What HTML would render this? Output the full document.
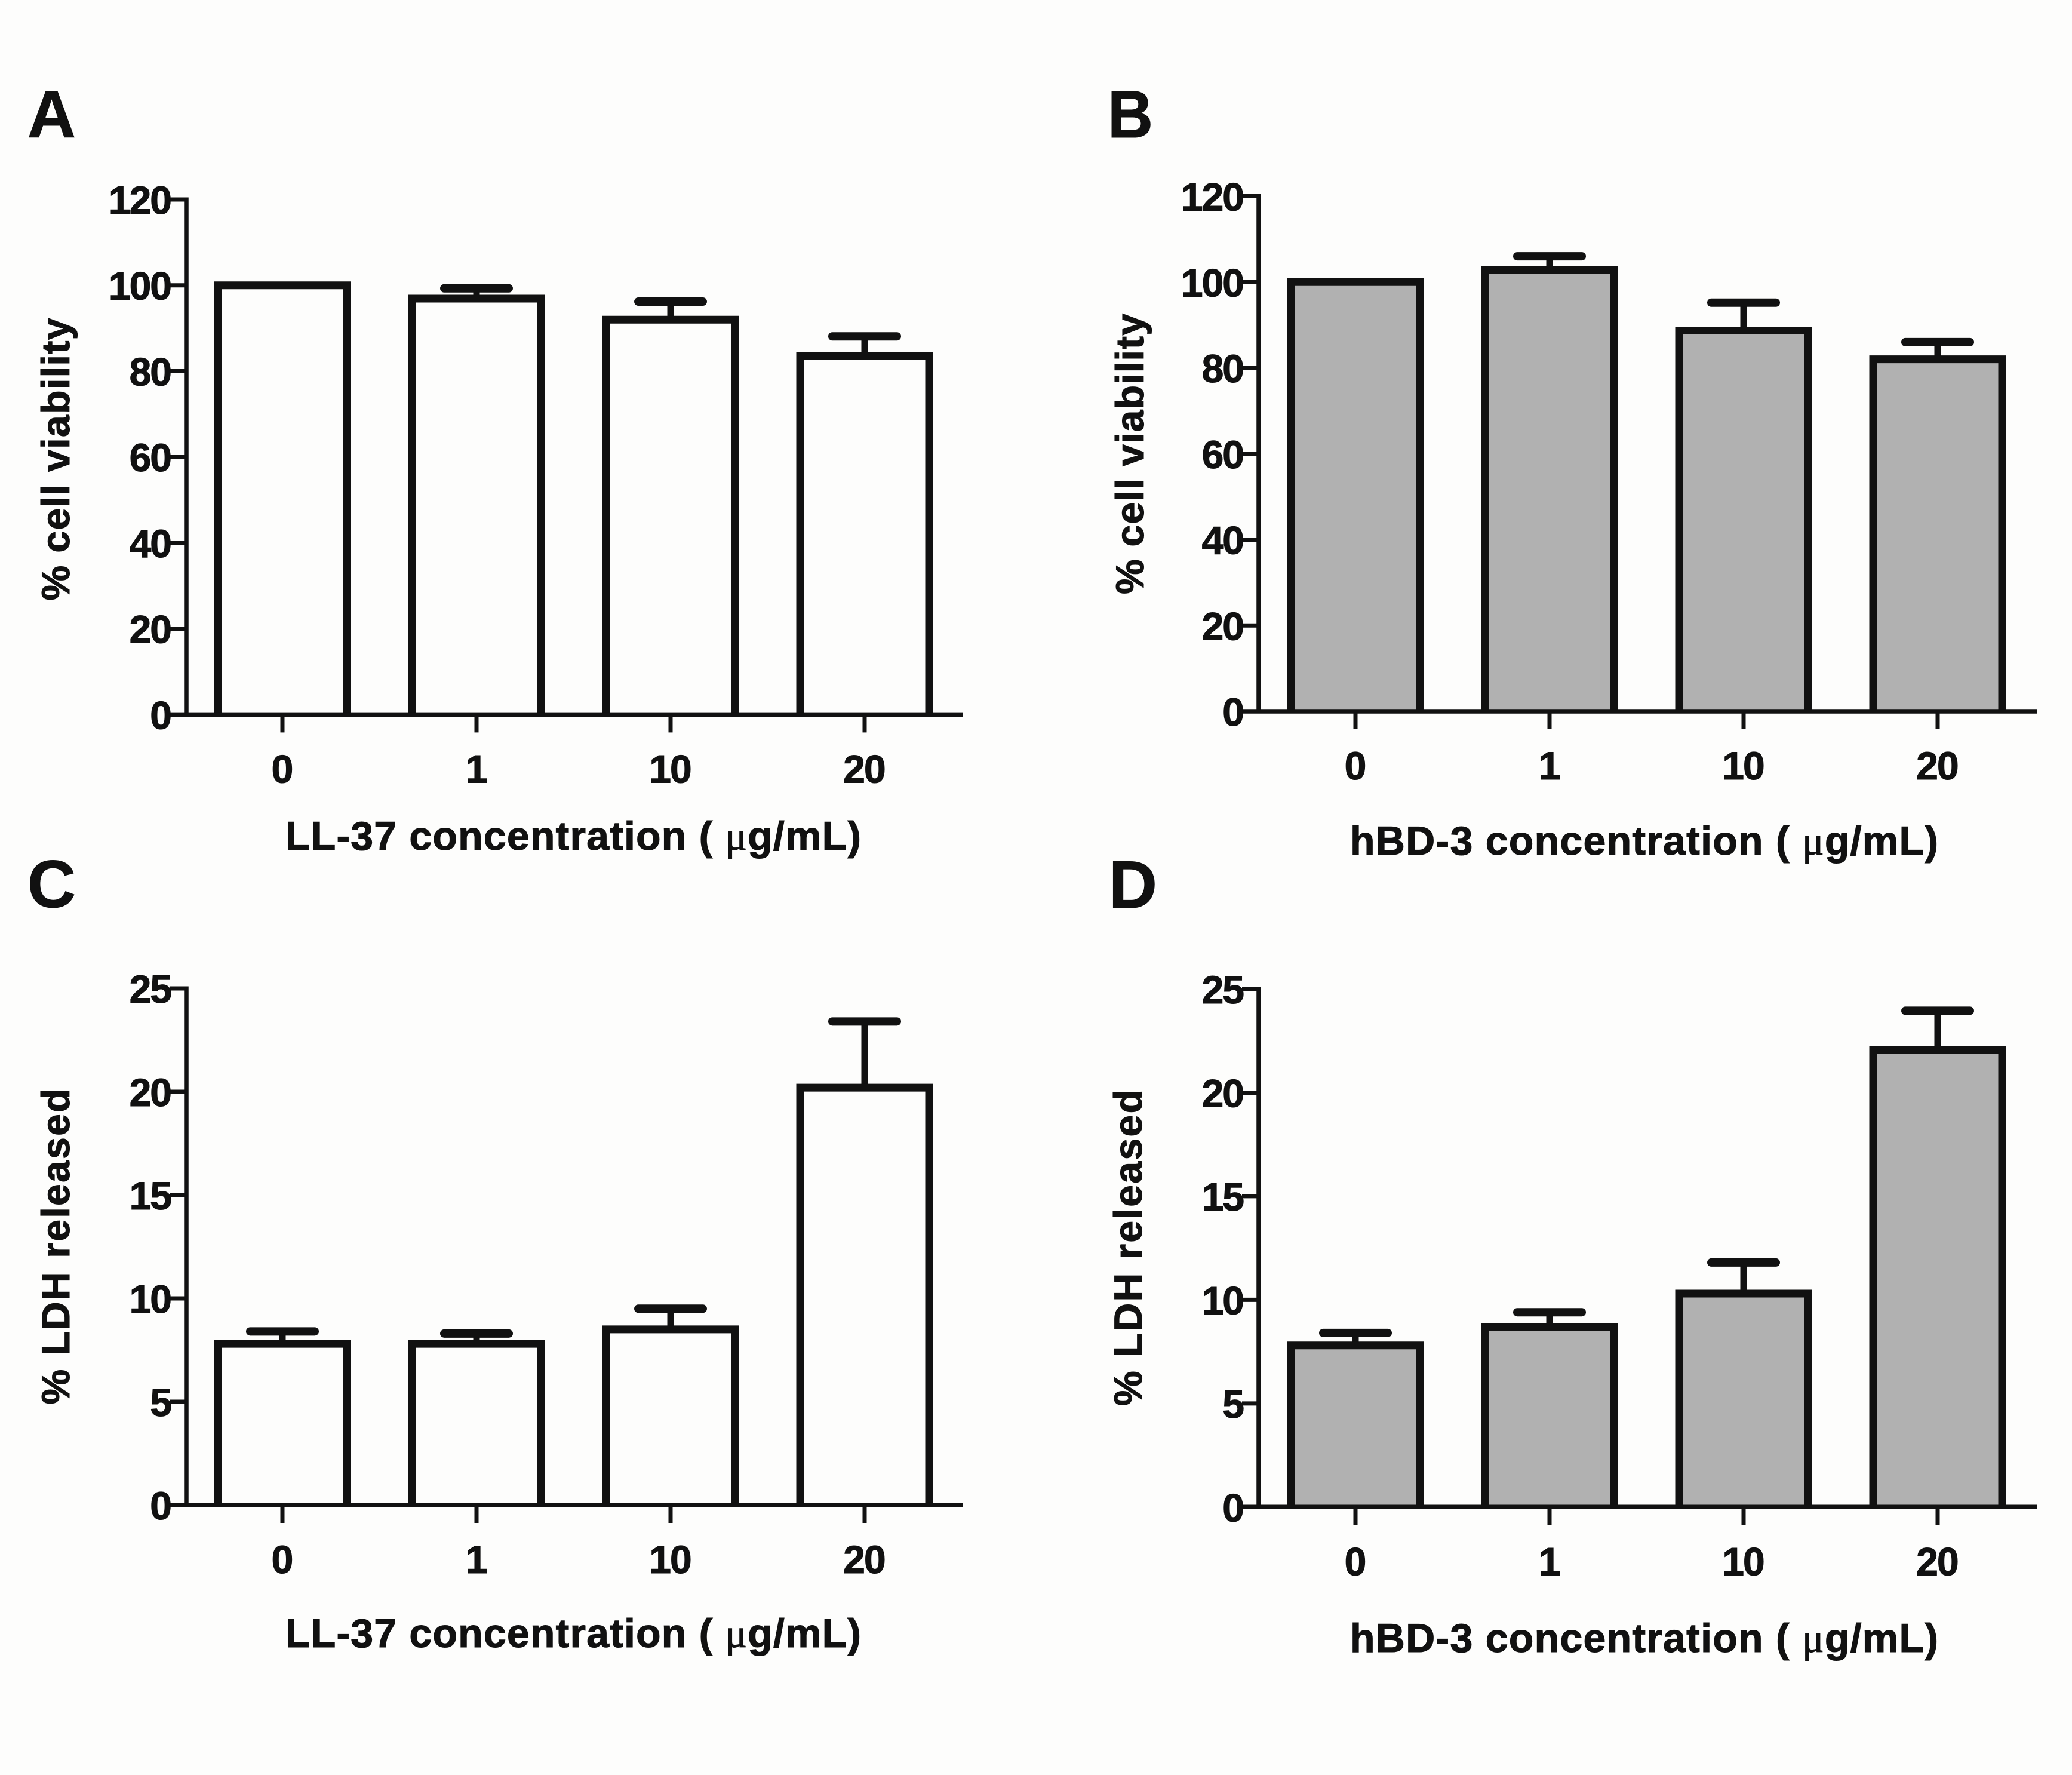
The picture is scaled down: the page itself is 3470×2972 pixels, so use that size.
<!DOCTYPE html>
<html lang="en">
<head>
<meta charset="utf-8">
<title>Cell viability and LDH release</title>
<style>
html,body{margin:0;padding:0;background:#fdfdfc;}
svg{display:block;}
text{font-family:"Liberation Sans",Arial,sans-serif;font-weight:700;fill:#111;stroke:#111;stroke-width:1.1px;}
.mu{font-family:"Liberation Serif","DejaVu Serif",serif;font-weight:400;}
</style>
</head>
<body>
<svg id="figure" xmlns="http://www.w3.org/2000/svg" width="3470" height="2972" viewBox="0 0 3470 2972">
  <rect width="3470" height="2972" fill="#fdfdfc"/>

  <text x="46" y="230" font-size="112">A</text>
  <text x="1855" y="230" font-size="112" textLength="76" lengthAdjust="spacingAndGlyphs">B</text>
  <text x="46" y="1519" font-size="112">C</text>
  <text x="1857" y="1520" font-size="112">D</text>

  <text transform="translate(116,769) rotate(-90)" text-anchor="middle" font-size="66" textLength="473">% cell viability</text>
  <text transform="translate(1915,760) rotate(-90)" text-anchor="middle" font-size="66" textLength="470">% cell viability</text>
  <text transform="translate(116,2087) rotate(-90)" text-anchor="middle" font-size="66" textLength="529">% LDH released</text>
  <text transform="translate(1912,2089) rotate(-90)" text-anchor="middle" font-size="66" textLength="530">% LDH released</text>

  <text x="478" y="1423" font-size="68" textLength="964">LL-37 concentration ( <tspan class="mu">μ</tspan>g/mL)</text>
  <text x="2261" y="1431" font-size="68" textLength="985">hBD-3 concentration ( <tspan class="mu">μ</tspan>g/mL)</text>
  <text x="478" y="2758" font-size="68" textLength="964">LL-37 concentration ( <tspan class="mu">μ</tspan>g/mL)</text>
  <text x="2261" y="2766" font-size="68" textLength="985">hBD-3 concentration ( <tspan class="mu">μ</tspan>g/mL)</text>
</svg>

<script>
const categories = ['0', '1', '10', '20'];

const viabilityTicks = [0, 20, 40, 60, 80, 100, 120];
const ldhTicks = [0, 5, 10, 15, 20, 25];

const ll37Viability = [100, 96.9, 92, 83.6];
const ll37ViabilityUpper = [100, 99.3, 96.2, 88.1];

const hbd3Viability = [100, 102.8, 88.7, 82];
const hbd3ViabilityUpper = [100, 106, 95.2, 86];

const ll37Ldh = [7.8, 7.8, 8.5, 20.2];
const ll37LdhUpper = [8.4, 8.3, 9.5, 23.4];

const hbd3Ldh = [7.8, 8.7, 10.3, 22.05];
const hbd3LdhUpper = [8.4, 9.4, 11.8, 23.95];

const SVG_NS = 'http://www.w3.org/2000/svg';
const figure = document.getElementById('figure');
const INK = '#111111';

function line(parent, x1, y1, x2, y2, width, cap) {
  const el = document.createElementNS(SVG_NS, 'line');
  el.setAttribute('x1', x1);
  el.setAttribute('y1', y1);
  el.setAttribute('x2', x2);
  el.setAttribute('y2', y2);
  el.setAttribute('stroke', INK);
  el.setAttribute('stroke-width', width);
  el.setAttribute('stroke-linecap', cap || 'butt');
  parent.appendChild(el);
  return el;
}

function label(parent, x, y, anchor, content) {
  const el = document.createElementNS(SVG_NS, 'text');
  el.setAttribute('x', x);
  el.setAttribute('y', y);
  el.setAttribute('text-anchor', anchor);
  el.setAttribute('font-size', '66');
  el.setAttribute('letter-spacing', '-2');
  el.textContent = content;
  parent.appendChild(el);
  return el;
}

function drawPanel(key, values, upper, ticks, frame) {
  const group = document.createElementNS(SVG_NS, 'g');
  
  
  figure.appendChild(group);

  const maxTick = ticks[ticks.length - 1];
  const yScale = v => frame.y0 - (v / maxTick) * (frame.y0 - frame.yTop);
  const xScale = i => frame.x0 + i * frame.step;

  values.forEach((value, i) => {
    const cx = xScale(i);
    const top = yScale(value);
    const capY = yScale(upper[i]);
    const left = cx - frame.barWidth / 2;
    const right = cx + frame.barWidth / 2;
    const barGroup = document.createElementNS(SVG_NS, 'g');
    
    
    group.appendChild(barGroup);

    if (upper[i] > value) {
      const stem = line(barGroup, cx, top, cx, capY, 11);
      
      
      const cap = line(barGroup, cx - 54, capY, cx + 54, capY, 14, 'round');
      
      
    }

    const outline = document.createElementNS(SVG_NS, 'path');
    outline.setAttribute('d', 'M' + left + ' ' + frame.y0 + 'V' + top + 'H' + right + 'V' + frame.y0);
    outline.setAttribute('fill', frame.fill);
    outline.setAttribute('stroke', INK);
    outline.setAttribute('stroke-width', '13');
    outline.setAttribute('stroke-linejoin', 'miter');
    
    
    barGroup.appendChild(outline);
  });

  const yAxis = line(group, frame.axisX, frame.yTop - 3.5, frame.axisX, frame.y0 + 3.5, 7.5);
  
  

  const xAxis = line(group, frame.axisX - 28, frame.y0, frame.axisEnd, frame.y0, 7.5);
  
  

  ticks.forEach(t => {
    const y = yScale(t);
    if (t !== 0) {
      const mark = line(group, frame.axisX - 28, y, frame.axisX, y, 7);
      
      
    }
    const tickText = label(group, frame.axisX - 26, y + 24, 'end', String(t));
    
    
  });

  categories.forEach((c, i) => {
    const x = xScale(i);
    const mark = line(group, x, frame.y0, x, frame.y0 + 30, 7);
    
    
    const tickText = label(group, x - 1, frame.y0 + 114, 'middle', c);
    
    
  });
}

drawPanel('a', ll37Viability, ll37ViabilityUpper, viabilityTicks,
  {axisX: 312, axisEnd: 1613, x0: 473, step: 325, barWidth: 216, y0: 1196.4, yTop: 334, fill: '#fdfdfc'});
drawPanel('b', hbd3Viability, hbd3ViabilityUpper, viabilityTicks,
  {axisX: 2108, axisEnd: 3412, x0: 2270, step: 325, barWidth: 216, y0: 1191, yTop: 328.5, fill: '#b1b1b1'});
drawPanel('c', ll37Ldh, ll37LdhUpper, ldhTicks,
  {axisX: 312, axisEnd: 1613, x0: 473, step: 325, barWidth: 216, y0: 2520, yTop: 1655, fill: '#fdfdfc'});
drawPanel('d', hbd3Ldh, hbd3LdhUpper, ldhTicks,
  {axisX: 2108, axisEnd: 3412, x0: 2270, step: 325, barWidth: 216, y0: 2523.3, yTop: 1656, fill: '#b1b1b1'});
</script>
</body>
</html>
